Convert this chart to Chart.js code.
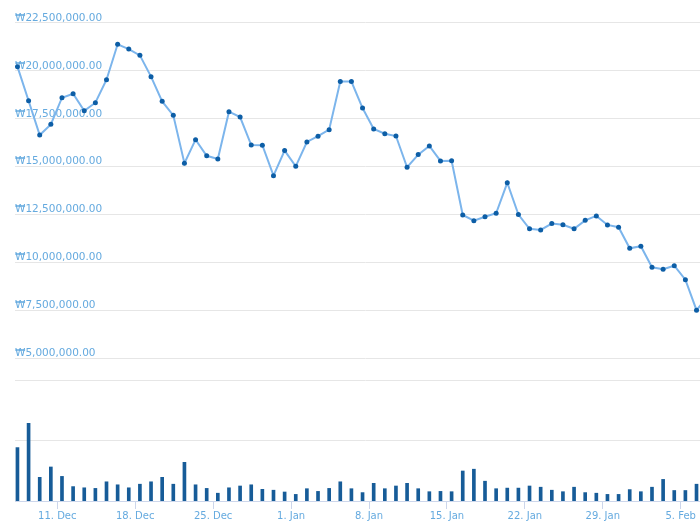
<!DOCTYPE html>
<html>
<head>
<meta charset="utf-8">
<script src="https://cdn.jsdelivr.net/npm/chart.js@4.4.1/dist/chart.umd.min.js"></script>
<style>
  html, body { margin: 0; padding: 0; overflow: hidden; background: #fff; }
  #wrap { width: 720px; height: 525px; }
</style>
</head>
<body>
<div id="wrap"><canvas id="chart" width="720" height="525"></canvas></div>
<script>
// one entry per day, 7 Dec -> 7 Feb
const dates = [
  '12-07','12-08','12-09','12-10','12-11','12-12','12-13','12-14','12-15','12-16',
  '12-17','12-18','12-19','12-20','12-21','12-22','12-23','12-24','12-25','12-26',
  '12-27','12-28','12-29','12-30','12-31','01-01','01-02','01-03','01-04','01-05',
  '01-06','01-07','01-08','01-09','01-10','01-11','01-12','01-13','01-14','01-15',
  '01-16','01-17','01-18','01-19','01-20','01-21','01-22','01-23','01-24','01-25',
  '01-26','01-27','01-28','01-29','01-30','01-31','02-01','02-02','02-03','02-04',
  '02-05','02-06','02-07'
];

const prices = [
  20220000, 18440000, 16650000, 17210000, 18600000, 18810000, 17920000, 18340000, 19540000, 21390000,
  21140000, 20810000, 19700000, 18410000, 17680000, 15180000, 16410000, 15570000, 15400000, 17870000,
  17590000, 16130000, 16120000, 14530000, 15840000, 15020000, 16290000, 16590000, 16930000, 19440000,
  19440000, 18060000, 16970000, 16720000, 16600000, 14970000, 15630000, 16080000, 15300000, 15310000,
  12480000, 12180000, 12390000, 12570000, 14160000, 12500000, 11760000, 11700000, 12030000, 11970000,
  11760000, 12200000, 12430000, 11960000, 11840000, 10740000, 10850000, 9750000, 9650000, 9830000,
  9100000, 7510000, 8220000
];

const volumes = [
  8900, 12950, 3950, 5670, 4100, 2400, 2200, 2100, 3200, 2700,
  2200, 2800, 3200, 3950, 2800, 6450, 2700, 2100, 1300, 2200,
  2500, 2700, 1950, 1800, 1500, 1100, 2050, 1600, 2100, 3200,
  2050, 1400, 2950, 2050, 2500, 2950, 2050, 1550, 1600, 1550,
  5000, 5300, 3300, 2050, 2150, 2150, 2500, 2300, 1800, 1550,
  2300, 1400, 1300, 1100, 1100, 1900, 1550, 2300, 3600, 1750,
  1750, 2800, 2600
];

const tickDates = ['12-11', '12-18', '12-25', '01-01', '01-08', '01-15', '01-22', '01-29', '02-05'];
const tickLabels = ['11. Dec', '18. Dec', '25. Dec', '1. Jan', '8. Jan', '15. Jan', '22. Jan', '29. Jan', '5. Feb'];
const priceTicks = [5000000, 7500000, 10000000, 12500000, 15000000, 17500000, 20000000, 22500000];
const volumeTicks = [10000, 20000];

// samples are stamped part-way through the day, ticks sit on midnight
const dayOffset = 0.42;

Chart.defaults.font.family = '"DejaVu Sans", Verdana, sans-serif';

const priceData = prices.map((p, i) => ({ x: i + dayOffset, y: p }));
const volumeData = volumes.map((v, i) => ({ x: i + dayOffset, y: v }));

new Chart(document.getElementById('chart'), {
  data: {
    datasets: [
      {
        type: 'line',
        yAxisID: 'price',
        data: priceData,
        borderColor: '#7cb5ec',
        borderWidth: 2,
        tension: 0,
        pointRadius: 2.5,
        pointBorderWidth: 0,
        pointBackgroundColor: '#0d5ea6',
        order: 0
      },
      {
        type: 'bar',
        yAxisID: 'volume',
        data: volumeData,
        backgroundColor: '#175c98',
        barThickness: 3,
        order: 1
      }
    ]
  },
  options: {
    responsive: false,
    animation: false,
    layout: { padding: { left: 15, top: 10, right: 0, bottom: 2 } },
    plugins: {
      legend: { display: false },
      tooltip: { enabled: false }
    },
    scales: {
      x: {
        type: 'linear',
        offset: false,
        min: 0.2,
        max: 63.17,
        afterBuildTicks: axis => {
          axis.ticks = tickDates.map(d => ({ value: dates.indexOf(d) }));
        },
        ticks: {
          autoSkip: false,
          maxRotation: 0,
          padding: 1,
          color: '#65aadf',
          font: { size: 10 },
          callback: (value, index) => tickLabels[index]
        },
        grid: {
          offset: false,
          drawOnChartArea: false,
          drawTicks: true,
          tickLength: 8,
          color: '#ccd6eb'
        },
        border: { display: true, color: '#ccd6eb' }
      },
      price: {
        type: 'linear',
        position: 'left',
        min: -2448000,
        max: 23178000,
        afterBuildTicks: axis => {
          axis.ticks = priceTicks.map(v => ({ value: v }));
        },
        ticks: {
          mirror: true,
          padding: 0,
          labelOffset: -5,
          color: '#65aadf',
          font: { size: 10.5 },
          callback: v => '₩' + v.toLocaleString('en-US', { minimumFractionDigits: 2, maximumFractionDigits: 2 })
        },
        grid: { color: '#e6e6e6', drawTicks: false },
        border: { display: false }
      },
      volume: {
        type: 'linear',
        position: 'left',
        min: 0,
        max: 81833,
        afterBuildTicks: axis => {
          axis.ticks = volumeTicks.map(v => ({ value: v }));
        },
        ticks: { display: false },
        grid: { color: '#e6e6e6', drawTicks: false },
        border: { display: false }
      }
    }
  }
});
</script>
</body>
</html>
